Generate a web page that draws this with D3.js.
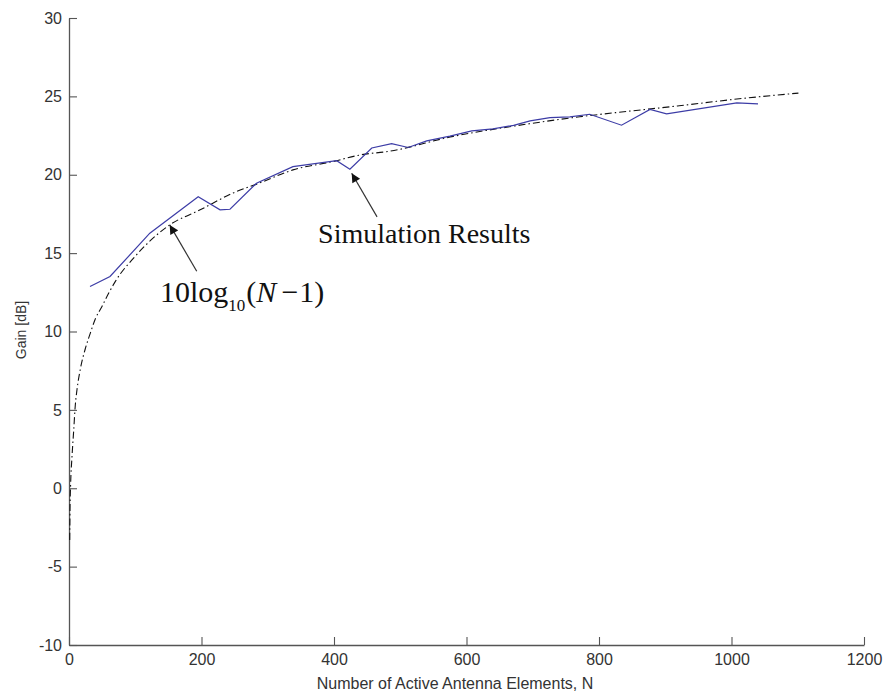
<!DOCTYPE html>
<html>
<head>
<meta charset="utf-8">
<script src="https://cdn.jsdelivr.net/npm/d3@7/dist/d3.min.js"></script>
<style>
  html, body { margin: 0; padding: 0; background: #fff; }
  svg { display: block; }
</style>
</head>
<body>
<svg id="chart" width="884" height="692"></svg>
<script>
// Simulated array gain versus number of active elements
const simN    = [31.7, 61.9, 122, 195, 228, 243, 283, 338, 404, 424, 457, 487, 512, 540, 575, 608, 640, 671, 696, 726, 756, 786, 834, 877, 902, 1008, 1040];
const simGain = [12.87, 13.51, 16.27, 18.6, 17.76, 17.8, 19.46, 20.52, 20.9, 20.35, 21.71, 21.99, 21.74, 22.16, 22.46, 22.8, 22.93, 23.15, 23.44, 23.65, 23.69, 23.86, 23.16, 24.17, 23.89, 24.59, 24.52];

// Reference curve
const refN    = [1.1, 1.5, 2.4, 4.5, 7.1, 9.5, 12.1, 17.1, 24.6, 32.2, 39.7, 49.8, 60, 70, 100, 152, 198, 248, 288, 338, 398, 439, 484, 580, 671, 771, 842, 921, 1008, 1101];
const refGain = [-3.3, -1.4, 0.2, 2.0, 3.7, 5.3, 6.3, 7.6, 8.9, 9.9, 10.8, 11.6, 12.45, 13.2, 14.8, 16.8, 17.76, 18.84, 19.48, 20.31, 20.84, 21.26, 21.5, 22.45, 23.1, 23.7, 24.04, 24.4, 24.83, 25.21];

const xTicks = [0, 200, 400, 600, 800, 1000, 1200];
const yTicks = [-10, -5, 0, 5, 10, 15, 20, 25, 30];

const svg = d3.select("#chart");
svg.append("rect").attr("width", 884).attr("height", 692).attr("fill", "#fff");

const x = d3.scaleLinear().domain([0, 1200]).range([69, 864]);
const y = d3.scaleLinear().domain([-10, 30]).range([645, 18]);

const axisColor = "#555";
const textColor = "#333";
const plain = d => String(d);

// Axes with inward ticks
const gx = svg.append("g").attr("transform", `translate(0,${y(-10)})`)
  .call(d3.axisBottom(x).tickValues(xTicks).tickFormat(plain).tickSizeInner(-8).tickSizeOuter(0).tickPadding(8));
const gy = svg.append("g").attr("transform", `translate(${x(0)},0)`)
  .call(d3.axisLeft(y).tickValues(yTicks).tickFormat(plain).tickSizeInner(-8).tickSizeOuter(0).tickPadding(7));

[gx, gy].forEach(g => {
  g.select(".domain").attr("stroke", axisColor).attr("stroke-width", 1.3);
  g.selectAll(".tick line").attr("stroke", axisColor).attr("stroke-width", 1.1);
  g.selectAll(".tick text")
    .attr("fill", textColor)
    .style("font-family", "'Liberation Sans', Arial, sans-serif")
    .style("font-size", "16px");
});
gx.selectAll(".tick text").attr("dy", "0.75em");

// Axis titles
svg.append("text")
  .attr("x", 455).attr("y", 689)
  .attr("text-anchor", "middle")
  .attr("fill", textColor)
  .style("font-family", "'Liberation Sans', Arial, sans-serif")
  .style("font-size", "16px")
  .text("Number of Active Antenna Elements, N");

svg.append("text")
  .attr("transform", `translate(26,${330}) rotate(-90)`)
  .attr("text-anchor", "middle")
  .attr("fill", textColor)
  .style("font-family", "'Liberation Sans', Arial, sans-serif")
  .style("font-size", "14px")
  .text("Gain [dB]");

// Reference curve (dash-dot)
const refData = refN.map((n, i) => [n, refGain[i]]);
svg.append("path")
  .datum(refData)
  .attr("fill", "none")
  .attr("stroke", "#111")
  .attr("stroke-width", 1.1)
  .attr("stroke-dasharray", "7,3,1.5,3")
  .attr("d", d3.line().x(d => x(d[0])).y(d => y(d[1])).curve(d3.curveMonotoneX));

// Simulation results (solid blue)
const simData = simN.map((n, i) => [n, simGain[i]]);
svg.append("path")
  .datum(simData)
  .attr("fill", "none")
  .attr("stroke", "#3c3ca6")
  .attr("stroke-width", 1.2)
  .attr("d", d3.line().x(d => x(d[0])).y(d => y(d[1])));

// Annotation arrows
svg.append("defs").append("marker")
  .attr("id", "head")
  .attr("viewBox", "0 0 10 10")
  .attr("refX", 10).attr("refY", 5)
  .attr("markerWidth", 11).attr("markerHeight", 9)
  .attr("markerUnits", "userSpaceOnUse")
  .attr("orient", "auto")
  .append("path").attr("d", "M0,0 L10,5 L0,10 Z").attr("fill", "#111");

const arrows = [
  { from: [192.8, 13.84], to: [152, 16.8] },
  { from: [465, 17.31], to: [426.7, 20.1] }
];
arrows.forEach(a => {
  svg.append("line")
    .attr("x1", x(a.from[0])).attr("y1", y(a.from[1]))
    .attr("x2", x(a.to[0])).attr("y2", y(a.to[1]))
    .attr("stroke", "#333").attr("stroke-width", 1.2)
    .attr("marker-end", "url(#head)");
});

// Annotation labels
const serif = "'Liberation Serif', 'Times New Roman', serif";
svg.append("text")
  .attr("x", x(376)).attr("y", y(15.64))
  .attr("fill", "#111")
  .style("font-family", serif)
  .style("font-size", "28px")
  .text("Simulation Results");

const f = svg.append("text")
  .attr("x", x(137.4)).attr("y", y(11.9))
  .attr("fill", "#111")
  .style("font-family", serif)
  .style("font-size", "30px");
f.append("tspan").text("10log");
f.append("tspan").attr("dy", 9).style("font-size", "17px").text("10");
f.append("tspan").attr("dy", -9).attr("dx", 1).text("(");
f.append("tspan").style("font-style", "italic").text("N");
f.append("tspan").attr("dx", 5).text("\u2212");
f.append("tspan").attr("dx", 1).text("1)");
</script>
</body>
</html>
